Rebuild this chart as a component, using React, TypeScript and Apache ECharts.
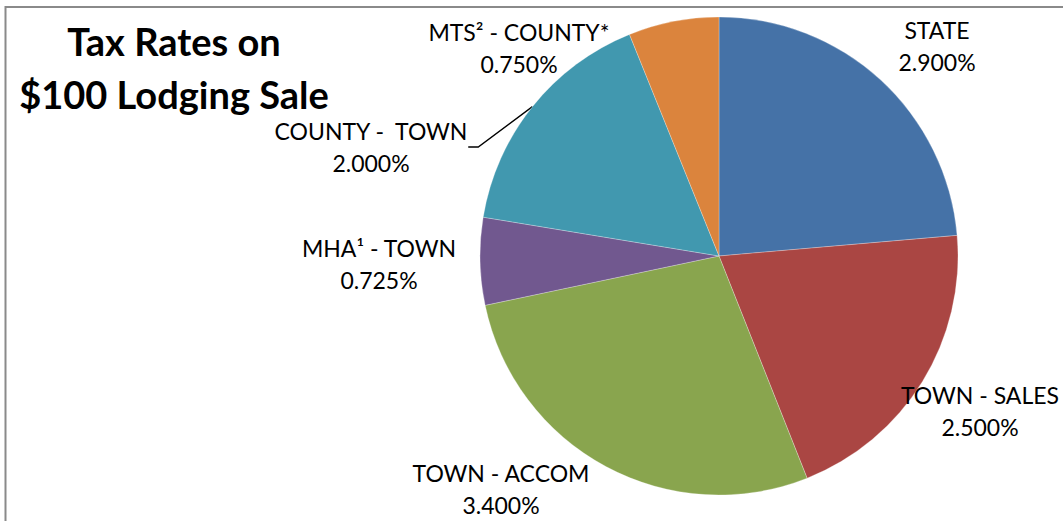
import React, { useEffect, useRef } from "react";
import * as echarts from "echarts";

const categories = ["STATE", "TOWN - SALES", "TOWN - ACCOM", "MHA¹ - TOWN", "COUNTY -  TOWN", "MTS² - COUNTY*"];
const rates = [2.9, 2.5, 3.4, 0.725, 2.0, 0.75];
const sliceColors = ["#4572A7", "#AA4643", "#89A54E", "#71588F", "#4198AF", "#DB843D"];
const titleLines = ["Tax Rates on", "$100 Lodging Sale"];
const labelCenters = [[937, 46], [980, 411], [501, 489], [379, 264], [371, 147], [519, 48]];
const leaderIndex = 4;

export default function App() {
  const ref = useRef<HTMLDivElement>(null);
  useEffect(() => {
    const chart = echarts.init(ref.current!, null, { renderer: "svg" });
    chart.setOption({
      animation: false,
      backgroundColor: "#ffffff",
      title: {
        text: titleLines.join("\n"),
        left: 174,
        top: 14,
        textAlign: "center",
        padding: 0,
        textStyle: {
          fontFamily: "Lato",
          fontWeight: "bold",
          fontSize: 38,
          lineHeight: 53,
          color: "#000",
        },
      },
      graphic: [
        {
          type: "rect",
          shape: { x: 5.5, y: 7, width: 1100, height: 600 },
          style: { fill: "none", stroke: "#8a8a8a", lineWidth: 2 },
          silent: true,
          z: -1,
        },
      ],
      series: [
        {
          type: "pie",
          center: [719, 256],
          radius: 239,
          startAngle: 90,
          clockwise: true,
          avoidLabelOverlap: false,
          itemStyle: { borderColor: "rgba(255,255,255,0.45)", borderWidth: 0.6 },
          label: {
            show: true,
            position: "outside",
            formatter: (p: any) => `${p.name}\n${Number(p.value).toFixed(3)}%`,
            fontFamily: "Lato",
            fontSize: 23,
            lineHeight: 32,
            color: "#000",
            align: "center",
          },
          labelLine: { show: false },
          labelLayout: (p: any) => {
            const c = labelCenters[p.dataIndex];
            return { x: c[0], y: c[1], align: "center", verticalAlign: "middle" };
          },
          data: categories.map((name, i) => ({
            name,
            value: rates[i],
            itemStyle: { color: sliceColors[i] },
            labelLine:
              i === leaderIndex
                ? { show: true, length: 30, length2: 10, lineStyle: { color: "#000", width: 1.3 } }
                : { show: false },
          })),
        },
      ],
    });
    return () => chart.dispose();
  }, []);
  return <div ref={ref} style={{ position: "fixed", left: 0, top: 0, width: 1063, height: 521 }} />;
}
